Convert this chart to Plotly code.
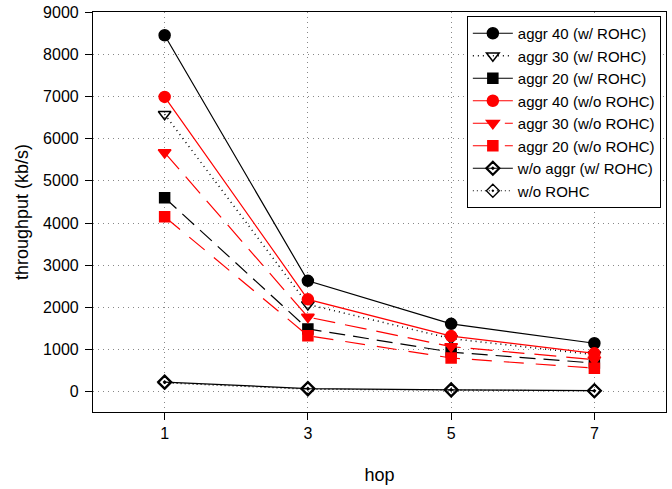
import plotly.graph_objects as go

hops = [1, 3, 5, 7]
aggr40_rohc = [8450, 2630, 1610, 1150]
aggr30_rohc = [6580, 2070, 1260, 880]
aggr20_rohc = [4600, 1490, 940, 680]
aggr40_norohc = [6990, 2190, 1320, 910]
aggr30_norohc = [5670, 1770, 1070, 760]
aggr20_norohc = [4150, 1330, 800, 560]
noaggr_rohc = [230, 75, 45, 25]
noaggr_norohc = [210, 60, 40, 22]

names = ["aggr 40 (w/ ROHC)", "aggr 30 (w/ ROHC)", "aggr 20 (w/ ROHC)",
         "aggr 40 (w/o ROHC)", "aggr 30 (w/o ROHC)", "aggr 20 (w/o ROHC)",
         "w/o aggr (w/ ROHC)", "w/o ROHC"]
series = [aggr40_rohc, aggr30_rohc, aggr20_rohc, aggr40_norohc, aggr30_norohc,
          aggr20_norohc, noaggr_rohc, noaggr_norohc]

styles = [
    dict(color="black", dash="solid", symbol="circle", msize=11, lw=1.2, mlw=1.5),
    dict(color="black", dash="1px,4px", symbol="triangle-down-open", msize=11, lw=1.5, mlw=1.5),
    dict(color="black", dash="16px,8px", symbol="square", msize=10, lw=1.2, mlw=1.5),
    dict(color="red", dash="solid", symbol="circle", msize=11, lw=1.2, mlw=1.5),
    dict(color="red", dash="22px,10px", symbol="triangle-down", msize=11, lw=1.2, mlw=1.5),
    dict(color="red", dash="20px,12px", symbol="square", msize=10, lw=1.2, mlw=1.5),
    dict(color="black", dash="solid", symbol="diamond-open-dot", msize=10, lw=1.2, mlw=2.2),
    dict(color="black", dash="1px,3px", symbol="diamond-open-dot", msize=10, lw=1.2, mlw=1.3),
]

fig = go.Figure()
for name, vals, s in zip(names, series, styles):
    fig.add_trace(go.Scatter(
        x=hops, y=vals, name=name, mode="lines+markers",
        line=dict(color=s["color"], dash=s["dash"], width=s["lw"]),
        marker=dict(symbol=s["symbol"], size=s["msize"], color=s["color"],
                    line=dict(color=s["color"], width=s["mlw"])),
    ))

axis_common = dict(
    showline=True, linecolor="black", linewidth=1.2, mirror=True,
    ticks="outside", ticklen=7, tickcolor="black", automargin=False,
    showgrid=True, gridcolor="#888888", griddash="1px,4px", gridwidth=1,
    zeroline=False, ticklabeloverflow="allow",
    tickfont=dict(family="Liberation Sans, Arial", size=16, color="black"),
)

fig.update_layout(
    width=672, height=489,
    margin=dict(l=93, r=6, t=12, b=77),
    paper_bgcolor="white", plot_bgcolor="white",
    font=dict(family="Liberation Sans, Arial", size=16, color="black"),
    xaxis=dict(range=[0, 8], tickvals=hops, ticktext=["1", "3", "5", "7"],
               title=dict(text="hop", font=dict(size=18), standoff=27), **axis_common),
    yaxis=dict(range=[-480, 9002], tickvals=[0, 1000, 2000, 3000, 4000, 5000, 6000, 7000, 8000, 9000],
               tickformat="d", ticklabelstandoff=3,
               title=dict(text="throughput (kb/s)", font=dict(size=18), standoff=9), **axis_common),
    legend=dict(x=0.991, y=0.99, xanchor="right", yanchor="top",
                bordercolor="black", borderwidth=1, bgcolor="white",
                font=dict(size=15), tracegroupgap=0, itemwidth=40),
    showlegend=True,
)

# remove the default 8px page margin so the figure fills the window exactly
fig.write_html("out.html", config={"displayModeBar": False},
               post_script="document.body.style.margin='0px';")
